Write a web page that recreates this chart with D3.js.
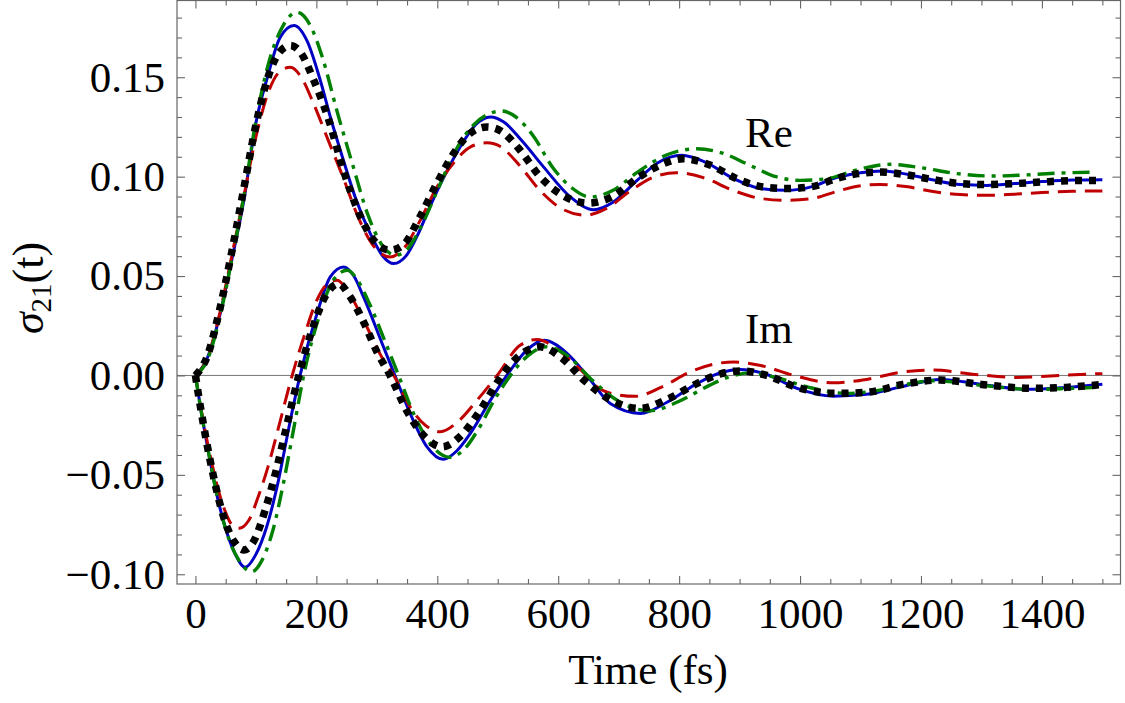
<!DOCTYPE html>
<html>
<head>
  <meta charset="utf-8">
  <title>sigma21(t)</title>
  <style>
    body { margin: 0; background: #fff; }
    svg text { font-family: "Liberation Serif", "Times New Roman", serif; fill: #000; }
  </style>
</head>
<body>
  <script src="https://d3js.org/d3.v7.min.js"></script>
  <script>
    // [time (fs), value] at extrema and in between
    const reBlue = [[0,0],[20,0.009],[40,0.030],[60,0.058],[80,0.088],[100,0.127],[120,0.151],[140,0.170],[163,0.176],[185,0.168],[205,0.150],[225,0.128],[245,0.108],[265,0.089],[289,0.0715],[310,0.060],[328,0.0563],[348,0.060],[368,0.071],[388,0.085],[413,0.101],[438,0.115],[463,0.126],[488,0.130],[510,0.1275],[540,0.118],[576,0.1048],[620,0.0898],[659,0.0834],[690,0.087],[730,0.098],[765,0.107],[804,0.1107],[845,0.107],[890,0.099],[935,0.094],[978,0.0931],[1020,0.095],[1060,0.0995],[1100,0.102],[1138,0.1028],[1180,0.101],[1225,0.098],[1265,0.096],[1309,0.0956],[1355,0.0965],[1400,0.0975],[1450,0.0983],[1500,0.0985]];
    const reGreen = [[0,0],[20,0.008],[40,0.029],[60,0.058],[80,0.090],[100,0.128],[120,0.156],[145,0.176],[168,0.1827],[190,0.176],[210,0.160],[235,0.132],[260,0.106],[285,0.081],[310,0.065],[331,0.0605],[352,0.064],[375,0.076],[400,0.093],[430,0.113],[460,0.126],[485,0.1315],[507,0.133],[530,0.130],[560,0.120],[590,0.105],[620,0.095],[653,0.0898],[690,0.093],[730,0.102],[780,0.111],[829,0.114],[870,0.112],[915,0.106],[960,0.100],[1000,0.0981],[1045,0.099],[1095,0.1035],[1149,0.1062],[1200,0.1045],[1260,0.1015],[1319,0.1003],[1370,0.1008],[1430,0.1018],[1490,0.1023]];
    const reRed = [[0,0],[20,0.009],[40,0.031],[60,0.060],[80,0.090],[100,0.120],[120,0.142],[140,0.153],[157,0.155],[175,0.150],[195,0.137],[220,0.118],[245,0.099],[270,0.079],[295,0.065],[322,0.0596],[345,0.064],[370,0.077],[400,0.095],[430,0.108],[455,0.115],[482,0.117],[505,0.115],[535,0.106],[570,0.093],[605,0.084],[645,0.0806],[680,0.084],[720,0.093],[760,0.100],[796,0.102],[840,0.0995],[890,0.093],[935,0.089],[978,0.0881],[1020,0.089],[1060,0.0925],[1095,0.0952],[1132,0.0961],[1175,0.095],[1220,0.0925],[1265,0.0910],[1309,0.0906],[1355,0.0912],[1400,0.0920],[1450,0.0926],[1500,0.0928]];
    const reBlack = [[0,0],[20,0.010],[40,0.033],[60,0.062],[80,0.094],[100,0.126],[120,0.150],[140,0.163],[157,0.166],[175,0.162],[195,0.149],[220,0.129],[245,0.103],[270,0.082],[295,0.068],[322,0.063],[345,0.066],[370,0.079],[400,0.097],[430,0.113],[455,0.122],[482,0.125],[505,0.123],[535,0.114],[570,0.100],[605,0.091],[650,0.0867],[690,0.090],[730,0.099],[770,0.106],[807,0.109],[850,0.106],[895,0.099],[935,0.095],[978,0.094],[1020,0.095],[1060,0.099],[1095,0.1015],[1132,0.1023],[1175,0.101],[1220,0.0985],[1265,0.0965],[1309,0.096],[1355,0.0965],[1400,0.0973],[1450,0.098],[1500,0.0981]];

    const imBlue = [[0,0],[10,-0.019],[20,-0.036],[30,-0.052],[40,-0.066],[52,-0.079],[66,-0.090],[82,-0.0965],[100,-0.090],[118,-0.076],[135,-0.056],[157,-0.0225],[173,0],[201,0.031],[223,0.0496],[245,0.0546],[262,0.050],[278,0.0395],[311,0.0144],[330,0],[355,-0.019],[383,-0.0359],[410,-0.0422],[432,-0.038],[455,-0.029],[488,-0.0124],[515,0],[548,0.0127],[576,0.0177],[615,0.011],[650,-0.001],[686,-0.0141],[736,-0.0191],[780,-0.0135],[830,-0.004],[865,0.001],[901,0.003],[945,0.0005],[995,-0.0065],[1055,-0.0104],[1110,-0.0095],[1170,-0.0055],[1232,-0.002],[1300,-0.0045],[1375,-0.007],[1440,-0.006],[1500,-0.0044]];
    const imGreen = [[0,0],[10,-0.019],[20,-0.036],[30,-0.052],[40,-0.066],[55,-0.082],[72,-0.093],[93,-0.0987],[110,-0.093],[128,-0.078],[145,-0.055],[163,-0.026],[179,0],[205,0.030],[228,0.048],[251,0.0529],[268,0.048],[285,0.038],[315,0.016],[336,0],[362,-0.020],[390,-0.035],[421,-0.0412],[445,-0.037],[468,-0.027],[495,-0.012],[521,0],[550,0.010],[580,0.0144],[615,0.010],[655,-0.002],[700,-0.013],[752,-0.0178],[800,-0.013],[850,-0.005],[885,-0.0005],[917,0.0013],[960,-0.001],[1015,-0.006],[1077,-0.009],[1130,-0.0075],[1175,-0.0045],[1220,-0.0027],[1300,-0.005],[1386,-0.007],[1440,-0.0066],[1490,-0.006]];
    const imRed = [[0,0],[10,-0.018],[20,-0.034],[30,-0.048],[40,-0.060],[50,-0.069],[60,-0.075],[72,-0.0769],[88,-0.073],[105,-0.060],[120,-0.046],[135,-0.029],[160,0],[180,0.020],[201,0.038],[218,0.046],[234,0.0479],[255,0.041],[278,0.0278],[311,0.0077],[328,0],[355,-0.0158],[380,-0.025],[405,-0.0283],[435,-0.023],[466,-0.0124],[499,0],[537,0.0152],[565,0.0181],[595,0.014],[620,0.0077],[645,0.0005],[664,-0.0057],[695,-0.0095],[727,-0.0105],[770,-0.006],[820,0.002],[855,0.0055],[890,0.0068],[935,0.005],[990,0.0],[1055,-0.0037],[1110,-0.002],[1165,0.0015],[1220,0.0027],[1290,0.0005],[1358,-0.001],[1430,0.0],[1500,0.001]];
    const imBlack = [[0,0],[10,-0.019],[20,-0.036],[30,-0.051],[40,-0.064],[52,-0.076],[65,-0.084],[80,-0.0878],[97,-0.083],[115,-0.068],[135,-0.046],[152,-0.024],[171,0],[192,0.022],[215,0.040],[237,0.0462],[255,0.040],[278,0.027],[300,0.012],[322,0],[350,-0.018],[380,-0.031],[408,-0.0359],[440,-0.030],[470,-0.018],[507,0],[540,0.011],[570,0.0144],[605,0.009],[645,-0.003],[685,-0.012],[735,-0.0166],[780,-0.012],[830,-0.004],[865,0.0005],[901,0.0023],[945,0.000],[995,-0.006],[1055,-0.009],[1110,-0.0085],[1170,-0.0045],[1232,-0.0023],[1300,-0.0045],[1386,-0.0065],[1440,-0.006],[1500,-0.0045]];

    const xTicks = [0, 200, 400, 600, 800, 1000, 1200, 1400];
    const yTicks = [-0.10, -0.05, 0.00, 0.05, 0.10, 0.15];

    const width = 1125;
    const height = 703;
    const svg = d3.select('body')
      .append('svg')
      .attr('width', width)
      .attr('height', height);

    const x = d3.scaleLinear().domain([-30.5, 1530]).range([177, 1120.5]);
    const y = d3.scaleLinear().domain([-0.1049, 0.1886]).range([584, 0.5]);

    const xMinor = d3.range(0, 1501, 50).filter(function(d) { return d % 200 !== 0; });
    const yMinor = d3.range(-10, 19).map(function(d) { return d / 100; })
      .filter(function(d) { return Math.round(d * 100) % 5 !== 0; });

    // zero line
    svg.append('line')
      .attr('x1', 177).attr('x2', 1120.5)
      .attr('y1', y(0)).attr('y2', y(0))
      .attr('stroke', '#777').attr('stroke-width', 1);

    // curves
    const line = d3.line()
      .x(function(d) { return x(d[0]); })
      .y(function(d) { return y(d[1]); })
      .curve(d3.curveMonotoneX);

    const styles = [
      { data: [reBlue, imBlue], color: '#0000c4', width: 3, dash: null },
      { data: [reRed, imRed], color: '#c00000', width: 3, dash: '18,9' },
      { data: [reGreen, imGreen], color: '#008000', width: 3.4, dash: '17,7,4,7' },
      { data: [reBlack, imBlack], color: '#000', width: 7.5, dash: '7,7' }
    ];

    styles.forEach(function(s) {
      s.data.forEach(function(series) {
        svg.append('path')
          .datum(series)
          .attr('d', line)
          .attr('fill', 'none')
          .attr('stroke', s.color)
          .attr('stroke-width', s.width)
          .attr('stroke-dasharray', s.dash);
      });
    });

    // frame
    svg.append('rect')
      .attr('x', 177).attr('y', 0.5)
      .attr('width', 1120.5 - 177).attr('height', 584 - 0.5)
      .attr('fill', 'none')
      .attr('stroke', '#666').attr('stroke-width', 1.2);

    function styleAxis(g) {
      g.select('.domain').remove();
      g.selectAll('line').attr('stroke', '#666').attr('stroke-width', 1.1);
      g.selectAll('text').attr('font-size', 43).attr('font-family', '"Liberation Serif", serif');
    }

    // bottom
    svg.append('g').attr('transform', 'translate(0,584)')
      .call(d3.axisBottom(x).tickValues(xTicks).tickSize(-8).tickPadding(13).tickFormat(d3.format('d')))
      .call(styleAxis);
    svg.append('g').attr('transform', 'translate(0,584)')
      .call(d3.axisBottom(x).tickValues(xMinor).tickSize(-5).tickFormat(''))
      .call(styleAxis);
    // top
    svg.append('g').attr('transform', 'translate(0,0.5)')
      .call(d3.axisTop(x).tickValues(xTicks).tickSize(-8).tickFormat(''))
      .call(styleAxis);
    svg.append('g').attr('transform', 'translate(0,0.5)')
      .call(d3.axisTop(x).tickValues(xMinor).tickSize(-5).tickFormat(''))
      .call(styleAxis);
    // left
    svg.append('g').attr('transform', 'translate(177,0)')
      .call(d3.axisLeft(y).tickValues(yTicks).tickSize(-8).tickPadding(12).tickFormat(d3.format('.2f')))
      .call(styleAxis);
    svg.append('g').attr('transform', 'translate(177,0)')
      .call(d3.axisLeft(y).tickValues(yMinor).tickSize(-5).tickFormat(''))
      .call(styleAxis);
    // right
    svg.append('g').attr('transform', 'translate(1120.5,0)')
      .call(d3.axisRight(y).tickValues(yTicks).tickSize(-8).tickFormat(''))
      .call(styleAxis);
    svg.append('g').attr('transform', 'translate(1120.5,0)')
      .call(d3.axisRight(y).tickValues(yMinor).tickSize(-5).tickFormat(''))
      .call(styleAxis);

    // labels
    svg.append('text')
      .attr('x', x(909)).attr('y', y(0.1147))
      .attr('font-size', 43)
      .text('Re');
    svg.append('text')
      .attr('x', x(909)).attr('y', y(0.0162))
      .attr('font-size', 43)
      .text('Im');

    svg.append('text')
      .attr('x', 648).attr('y', 684)
      .attr('text-anchor', 'middle')
      .attr('font-size', 43)
      .text('Time (fs)');

    const yTitle = svg.append('text')
      .attr('transform', 'translate(43,288) rotate(-90)')
      .attr('text-anchor', 'middle')
      .attr('font-size', 44);
    yTitle.append('tspan').attr('font-style', 'italic').text('σ');
    yTitle.append('tspan').attr('font-size', 29).attr('dy', 8).text('21');
    yTitle.append('tspan').attr('dy', -8).text('(t)');
  </script>
</body>
</html>
